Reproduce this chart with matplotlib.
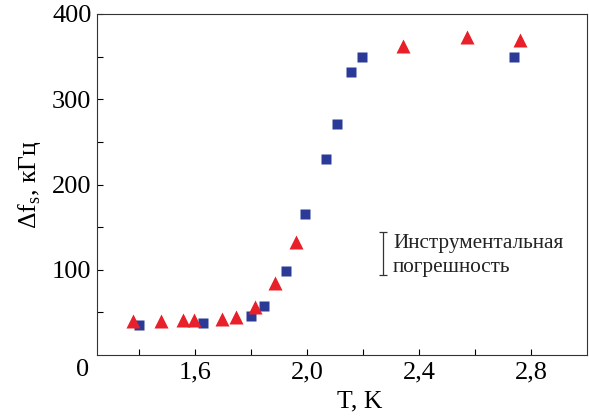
import numpy as np
import matplotlib.pyplot as plt

plt.rcParams['font.family'] = ['Liberation Serif', 'DejaVu Serif']

# red triangles
T_tri = np.array([1.377, 1.477, 1.558, 1.597, 1.696, 1.746, 1.816, 1.887, 1.961, 2.344, 2.570, 2.761])
df_tri = np.array([40, 40, 41, 41, 42, 45, 56, 84, 133, 362, 373, 370])
# blue squares
T_sq = np.array([1.399, 1.629, 1.799, 1.848, 1.926, 1.993, 2.068, 2.107, 2.156, 2.195, 2.740])
df_sq = np.array([35, 37.5, 46, 58, 98.5, 165, 230, 271, 332, 350, 350])

err_x = 2.272
err_lo, err_hi = 94, 144
note = 'Инструментальная\nпогрешность'

fig = plt.figure(figsize=(5.89, 4.2), dpi=100)
ax = fig.add_axes([97/589, 65/420, 490/589, 341/420])

ax.plot(T_sq, df_sq, 's', color='#2b3a96', ms=7.5, mec='none')
ax.plot(T_tri, df_tri, '^', color='#e8202a', ms=9.5, mec='none')

# instrumental error bar
ax.errorbar([err_x], [(err_lo + err_hi) / 2], yerr=[(err_hi - err_lo) / 2],
            fmt='none', ecolor='#333333', elinewidth=0.9, capsize=3, capthick=0.9)
ax.text(err_x + 0.035, (err_lo + err_hi) / 2 - 2, note, fontsize=15.3, va='center',
        ha='left', linespacing=1.35, color='#222222')

ax.set_xlim(1.25, 3.0)
ax.set_ylim(0, 400)
ax.set_xticks([1.6, 2.0, 2.4, 2.8])
ax.set_xticklabels(['1,6', '2,0', '2,4', '2,8'])
ax.set_xticks([1.4, 1.8, 2.2, 2.6], minor=True)
ax.set_yticks([100, 200, 300, 400])
ax.set_yticks([50, 150, 250, 350], minor=True)
ax.tick_params(which='both', direction='in', length=4.5, width=0.8, labelsize=19,
               top=False, right=False)
ax.tick_params(axis='x', pad=5)
ax.tick_params(axis='y', pad=4)
ax.text(-0.029, -0.045, '0', transform=ax.transAxes, fontsize=19,
        ha='center', va='center')

for s in ax.spines.values():
    s.set_linewidth(0.8)
    s.set_color('#333333')

ax.set_xlabel('T, K', fontsize=18.5)
ax.xaxis.set_label_coords(0.536, -0.105)
ax.set_ylabel('Δf$_\\mathregular{s}$, кГц', fontsize=18.5)
ax.yaxis.set_label_coords(-0.11, 0.5)

fig.savefig('out.png', dpi=100)
